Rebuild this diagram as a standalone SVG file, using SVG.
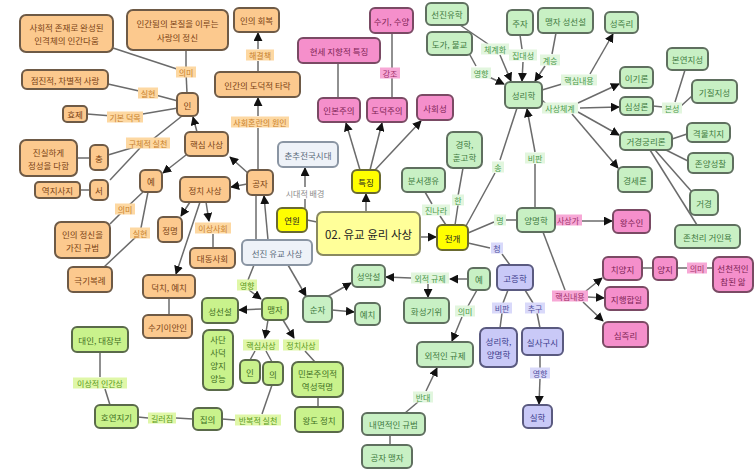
<svg xmlns="http://www.w3.org/2000/svg" width="754" height="471" viewBox="0 0 754 471">
<defs>
<marker id="a" viewBox="0 0 10 10" refX="9" refY="5" markerWidth="9" markerHeight="9" orient="auto" markerUnits="userSpaceOnUse"><path d="M0,0 L10,5 L0,10z" fill="#111"/></marker>
<style>
text{font-family:"Noto Sans CJK KR","Noto Sans",sans-serif;font-size:8.5px;text-anchor:middle;dominant-baseline:central}
.node rect{stroke-width:2}
.o rect{fill:#fcc98e;stroke:#6e5a46}.o text{fill:#7a4214}
.p rect{fill:#f58fcb;stroke:#7a4a64}.p text{fill:#7d1f55}
.g rect{fill:#c8f0c4;stroke:#5f6f5f}.g text{fill:#3f7a3f}
.l rect{fill:#c9f28c;stroke:#5a6a4a}.l text{fill:#3f6f1f}
.y rect{fill:#ffff00;stroke:#6a6a30}.y text{fill:#222}
.c rect{fill:#ffff99;stroke:#8a8a60}.c text{fill:#222;font-size:11.5px}
.v rect{fill:#c9c9f7;stroke:#5a5a80}.v text{fill:#3a3a8a}
.s rect{fill:#eef2f8;stroke:#8a95a3}.s text{fill:#5a6a7a}
#edges line,#edges path{stroke:#6b6b6b;stroke-width:1.5;fill:none}
#edges .ar{marker-end:url(#a)}
.lb text{font-size:8px}
.lo rect{fill:#fdd8a2}.lo text{fill:#c8802c}
.lp rect{fill:#f7a8d6}.lp text{fill:#a0306a}
.lg rect{fill:#e2f6de}.lg text{fill:#4a9a4a}
.ll rect{fill:#dff7a8}.ll text{fill:#5a9a20}
.lv rect{fill:#d9d9fa}.lv text{fill:#5050a0}
.lt text{fill:#8a8a8a}
</style>
</defs>
<rect width="754" height="471" fill="#fff"/>
<g id="edges">
<line x1="113" y1="48" x2="186" y2="72"/><line x1="186" y1="50" x2="186" y2="72"/><line x1="186" y1="72" x2="187" y2="93"/>
<path d="M108,84 L148,93 L178,101"/>
<path d="M87,114 L125,117 L178,108"/>
<path d="M108,155 L148,143 L182,116"/>
<line x1="110" y1="180" x2="140" y2="148"/>
<line x1="77" y1="158" x2="90" y2="158"/>
<line x1="80" y1="190" x2="90" y2="190"/>
<line class="ar" x1="197" y1="132" x2="193" y2="117"/>
<line class="ar" x1="186" y1="155" x2="163" y2="173"/>
<path d="M143,192 L125,209 L110,224"/>
<path d="M148,192 L140,233 L104,267"/>
<line class="ar" x1="190" y1="202" x2="181" y2="216"/>
<line class="ar" x1="200" y1="202" x2="176" y2="274"/>
<line class="ar" x1="206" y1="202" x2="209" y2="221"/>
<line x1="213" y1="234" x2="213" y2="248"/>
<line x1="169" y1="298" x2="169" y2="315"/>
<line class="ar" x1="249" y1="174" x2="230" y2="157"/>
<line class="ar" x1="247" y1="184" x2="231" y2="187"/>
<line x1="258" y1="170" x2="258" y2="128"/>
<line class="ar" x1="258" y1="116" x2="258" y2="98"/>
<line x1="258" y1="72" x2="258" y2="61"/>
<line class="ar" x1="258" y1="49" x2="258" y2="33"/>
<line class="ar" x1="268" y1="240" x2="264" y2="196"/>
<line x1="256" y1="195" x2="256" y2="240"/>
<line x1="254" y1="265" x2="248" y2="280"/>
<line class="ar" x1="249" y1="290" x2="261" y2="299"/>
<line class="ar" x1="288" y1="265" x2="306" y2="296"/>
<line x1="305" y1="208" x2="305" y2="199"/>
<line class="ar" x1="305" y1="187" x2="305" y2="168"/>
<line x1="307" y1="220" x2="317" y2="222"/>
<line class="ar" x1="366" y1="212" x2="366" y2="194"/>
<line class="ar" x1="360" y1="170" x2="346" y2="123"/>
<line class="ar" x1="370" y1="170" x2="382" y2="123"/>
<line class="ar" x1="375" y1="170" x2="421" y2="121"/>
<line x1="338" y1="98" x2="338" y2="63"/>
<line x1="392" y1="98" x2="392" y2="33"/>
<line class="ar" x1="420" y1="237" x2="436" y2="237"/>
<path d="M463,168 L458,196 M458,205 L455,225"/>
<path d="M425,192 L432,204 M440,216 L446,225"/>
<path d="M466,226 L495,173 M500,160 L517,108"/>
<path d="M468,233 L494,222 M506,220 L517,220"/>
<path d="M468,243 L490,248 M502,254 L510,265"/>
<line x1="535" y1="208" x2="535" y2="164"/>
<line class="ar" x1="535" y1="152" x2="527" y2="109"/>
<line class="ar" x1="582" y1="221" x2="612" y2="221"/>
<line x1="543" y1="232" x2="565" y2="290"/>
<line class="ar" x1="586" y1="291" x2="602" y2="278"/>
<line class="ar" x1="588" y1="297" x2="604" y2="298"/>
<line class="ar" x1="583" y1="302" x2="603" y2="321"/>
<line x1="642" y1="268" x2="653" y2="268"/>
<line x1="677" y1="268" x2="713" y2="268"/>
<path d="M460,25 L488,44"/>
<line class="ar" x1="500" y1="55" x2="511" y2="81"/>
<path d="M470,55 L476,66"/>
<line class="ar" x1="489" y1="77" x2="504" y2="84"/>
<line x1="520" y1="35" x2="522" y2="49"/>
<line class="ar" x1="523" y1="62" x2="522" y2="81"/>
<line x1="556" y1="33" x2="552" y2="54"/>
<line class="ar" x1="545" y1="66" x2="535" y2="81"/>
<line x1="542" y1="90" x2="562" y2="84"/>
<line class="ar" x1="590" y1="74" x2="613" y2="34"/>
<line class="ar" x1="578" y1="103" x2="619" y2="84"/>
<line class="ar" x1="580" y1="108" x2="619" y2="107"/>
<line class="ar" x1="578" y1="112" x2="619" y2="135"/>
<line class="ar" x1="572" y1="114" x2="618" y2="168"/>
<line x1="542" y1="100" x2="546" y2="104"/>
<line x1="653" y1="106" x2="663" y2="107"/>
<path d="M675,102 L685,70 M681,106 L692,96"/>
<line x1="672" y1="139" x2="687" y2="134"/>
<line x1="666" y1="150" x2="688" y2="161"/>
<line x1="655" y1="150" x2="692" y2="192"/>
<line x1="650" y1="150" x2="697" y2="225"/>
<path d="M508,290 L503,303 M502,313 L500,328"/>
<path d="M525,290 L533,303 M537,313 L540,328"/>
<line x1="540" y1="355" x2="540" y2="368"/>
<line class="ar" x1="540" y1="379" x2="539" y2="404"/>
<line class="ar" x1="468" y1="279" x2="450" y2="279"/>
<line class="ar" x1="411" y1="278" x2="386" y2="277"/>
<line class="ar" x1="428" y1="284" x2="428" y2="297"/>
<line x1="477" y1="290" x2="468" y2="306"/>
<line class="ar" x1="462" y1="317" x2="452" y2="341"/>
<line x1="405" y1="413" x2="418" y2="402"/>
<line class="ar" x1="426" y1="391" x2="437" y2="368"/>
<line x1="390" y1="435" x2="390" y2="445"/>
<line class="ar" x1="325" y1="298" x2="351" y2="283"/>
<line class="ar" x1="332" y1="310" x2="354" y2="312"/>
<line class="ar" x1="262" y1="309" x2="239" y2="310"/>
<line class="ar" x1="268" y1="320" x2="265" y2="338"/>
<line class="ar" x1="283" y1="320" x2="294" y2="338"/>
<path d="M255,351 L250,360 M266,351 L272,362 M305,351 L315,362"/>
<line x1="318" y1="397" x2="318" y2="407"/>
<line x1="272" y1="385" x2="262" y2="414"/>
<line x1="235" y1="420" x2="222" y2="419"/>
<line x1="193" y1="419" x2="176" y2="418"/>
<line x1="148" y1="418" x2="138" y2="417"/>
<line x1="110" y1="405" x2="105" y2="389"/>
<line x1="100" y1="377" x2="100" y2="352"/>
</g>
<g id="labels" class="lb">
<g class="lo">
<rect x="176" y="66.5" width="20" height="11"/><text x="186" y="72">의미</text>
<rect x="138" y="87.5" width="20" height="11"/><text x="148" y="93">실현</text>
<rect x="107" y="111.5" width="36" height="11"/><text x="125" y="117">기본 덕목</text>
<rect x="126" y="137.5" width="44" height="11"/><text x="148" y="143">구체적 실천</text>
<rect x="115" y="203.5" width="20" height="11"/><text x="125" y="209">의미</text>
<rect x="130" y="227.5" width="20" height="11"/><text x="140" y="233">실현</text>
<rect x="195" y="222.5" width="36" height="11"/><text x="213" y="228">이상사회</text>
<rect x="246" y="49.5" width="28" height="11"/><text x="260" y="55">해결책</text>
<rect x="231" y="116.5" width="58" height="11"/><text x="260" y="122">사회혼란의 원인</text>
</g>
<g class="lp">
<rect x="380" y="67.5" width="20" height="11"/><text x="390" y="73">강조</text>
<rect x="554" y="214.5" width="28" height="11"/><text x="568" y="220">사상가</text>
<rect x="552" y="290.5" width="36" height="11"/><text x="570" y="296">핵심내용</text>
<rect x="687" y="262.5" width="20" height="11"/><text x="697" y="268">의미</text>
</g>
<g class="lg">
<rect x="481" y="43.5" width="28" height="11"/><text x="495" y="49">체계화</text>
<rect x="471" y="67.5" width="20" height="11"/><text x="481" y="73">영향</text>
<rect x="509" y="49.5" width="28" height="11"/><text x="523" y="55">집대성</text>
<rect x="540" y="54.5" width="20" height="11"/><text x="550" y="60">계승</text>
<rect x="561" y="74.5" width="36" height="11"/><text x="579" y="80">핵심내용</text>
<rect x="542" y="102.5" width="36" height="11"/><text x="560" y="108">사상체계</text>
<rect x="662" y="102.5" width="20" height="11"/><text x="672" y="108">본성</text>
<rect x="452" y="194.5" width="12" height="11"/><text x="458" y="200">한</text>
<rect x="422" y="204.5" width="28" height="11"/><text x="436" y="210">진나라</text>
<rect x="492" y="161.5" width="12" height="11"/><text x="498" y="167">송</text>
<rect x="494" y="214.5" width="12" height="11"/><text x="500" y="220">명</text>
<rect x="525" y="152.5" width="20" height="11"/><text x="535" y="158">비판</text>
<rect x="411" y="272.5" width="38" height="11"/><text x="430" y="278">외적 규제</text>
<rect x="455" y="305.5" width="20" height="11"/><text x="465" y="311">의미</text>
<rect x="413" y="391.5" width="20" height="11"/><text x="423" y="397">반대</text>
</g>
<g class="ll">
<rect x="237" y="279.5" width="20" height="11"/><text x="247" y="285">영향</text>
<rect x="243" y="339.5" width="36" height="11"/><text x="261" y="345">핵심사상</text>
<rect x="283" y="339.5" width="36" height="11"/><text x="301" y="345">정치사상</text>
<rect x="235" y="414.5" width="46" height="11"/><text x="258" y="420">반복적 실천</text>
<rect x="148" y="412.5" width="28" height="11"/><text x="162" y="418">길러짐</text>
<rect x="73" y="377.5" width="54" height="11"/><text x="100" y="383">이상적 인간상</text>
</g>
<g class="lv">
<rect x="491" y="242.5" width="12" height="11"/><text x="497" y="248">청</text>
<rect x="492" y="302.5" width="20" height="11"/><text x="502" y="308">비판</text>
<rect x="525" y="302.5" width="20" height="11"/><text x="535" y="308">추구</text>
<rect x="530" y="367.5" width="20" height="11"/><text x="540" y="373">영향</text>
</g>
<g class="lt"><text x="305" y="193">시대적 배경</text></g>
</g>
<g id="n_sahoe" class="node o"><rect x="20" y="15" width="93" height="37" rx="6"/><text x="66.5" y="27">사회적 존재로 완성된</text><text x="66.5" y="40">인격체의 인간다움</text></g>
<g id="n_ingan" class="node o"><rect x="127" y="10" width="101" height="40" rx="6"/><text x="177.5" y="23">인간됨의 본질을 이루는</text><text x="177.5" y="37">사랑의 정신</text></g>
<g id="n_inhoe" class="node o"><rect x="234" y="8" width="45" height="24" rx="5"/><text x="256.5" y="20">인의 회복</text></g>
<g id="n_tarak" class="node o"><rect x="215" y="72" width="85" height="25" rx="5"/><text x="257.5" y="84.5">인간의 도덕적 타락</text></g>
<g id="n_in" class="node o"><rect x="177" y="93" width="21" height="23" rx="5"/><text x="187.5" y="104.5">인</text></g>
<g id="n_jeomjin" class="node o"><rect x="22" y="70" width="86" height="19" rx="5"/><text x="65" y="79.5">점진적, 차별적 사랑</text></g>
<g id="n_hyoje" class="node o"><rect x="63" y="106" width="24" height="16" rx="4"/><text x="75" y="114">효제</text></g>
<g id="n_chung" class="node o"><rect x="90" y="145" width="18" height="25" rx="5"/><text x="99" y="157.5">충</text></g>
<g id="n_jinsim" class="node o"><rect x="20" y="140" width="57" height="36" rx="6"/><text x="48.5" y="152">진실하게</text><text x="48.5" y="165">정성을 다함</text></g>
<g id="n_seo" class="node o"><rect x="90" y="180" width="18" height="20" rx="5"/><text x="99" y="190">서</text></g>
<g id="n_yeokji" class="node o"><rect x="35" y="182" width="45" height="16" rx="4"/><text x="57.5" y="190">역지사지</text></g>
<g id="n_ye" class="node o"><rect x="140" y="170" width="22" height="22" rx="5"/><text x="151" y="181">예</text></g>
<g id="n_inui" class="node o"><rect x="55" y="222" width="55" height="36" rx="6"/><text x="82.5" y="234">인의 정신을</text><text x="82.5" y="247">가진 규범</text></g>
<g id="n_geukgi" class="node o"><rect x="68" y="267" width="44" height="25" rx="5"/><text x="90" y="279.5">극기복례</text></g>
<g id="n_haeksim" class="node o"><rect x="185" y="132" width="43" height="24" rx="5"/><text x="206.5" y="144">핵심 사상</text></g>
<g id="n_jeongchi" class="node o"><rect x="180" y="177" width="50" height="25" rx="5"/><text x="205" y="189.5">정치 사상</text></g>
<g id="n_jeongmyeong" class="node o"><rect x="158" y="217" width="24" height="25" rx="5"/><text x="170" y="229.5">정명</text></g>
<g id="n_deokchi" class="node o"><rect x="143" y="275" width="52" height="23" rx="5"/><text x="169" y="286.5">덕치, 예치</text></g>
<g id="n_daedong" class="node o"><rect x="190" y="248" width="45" height="20" rx="5"/><text x="212.5" y="258">대동사회</text></g>
<g id="n_sugi" class="node o"><rect x="143" y="315" width="49" height="23" rx="5"/><text x="167.5" y="326.5">수기이안인</text></g>
<g id="n_gongja" class="node o"><rect x="247" y="170" width="26" height="25" rx="5"/><text x="260" y="182.5">공자</text></g>
<g id="n_chunchu" class="node s"><rect x="278" y="142" width="60" height="25" rx="5"/><text x="308" y="154.5">춘추전국시대</text></g>
<g id="n_seonjin" class="node s"><rect x="242" y="240" width="70" height="25" rx="5"/><text x="277" y="252.5">선진 유교 사상</text></g>
<g id="n_yeonwon" class="node y"><rect x="277" y="208" width="30" height="24" rx="5"/><text x="292" y="220">연원</text></g>
<g id="n_center" class="node c"><rect x="317" y="212" width="103" height="43" rx="6"/><text x="368.5" y="233.5">02. 유교 윤리 사상</text></g>
<g id="n_teukjing" class="node y"><rect x="352" y="170" width="28" height="23" rx="5"/><text x="366" y="181.5">특징</text></g>
<g id="n_jeongae" class="node y"><rect x="437" y="225" width="31" height="25" rx="5"/><text x="452.5" y="237.5">전개</text></g>
<g id="n_inbon" class="node p"><rect x="318" y="98" width="42" height="24" rx="5"/><text x="339" y="110">인본주의</text></g>
<g id="n_dodeok" class="node p"><rect x="367" y="98" width="40" height="24" rx="5"/><text x="387" y="110">도덕주의</text></g>
<g id="n_sahoeseong" class="node p"><rect x="417" y="95" width="36" height="25" rx="5"/><text x="435" y="107.5">사회성</text></g>
<g id="n_hyeonse" class="node p"><rect x="298" y="38" width="82" height="25" rx="5"/><text x="339" y="50.5">현세 지향적 특징</text></g>
<g id="n_sugisuyang" class="node p"><rect x="370" y="8" width="43" height="25" rx="5"/><text x="391.5" y="20.5">수기, 수양</text></g>
<g id="n_wangsuin" class="node p"><rect x="613" y="210" width="37" height="23" rx="5"/><text x="631.5" y="221.5">왕수인</text></g>
<g id="n_chiyangji" class="node p"><rect x="603" y="257" width="39" height="23" rx="5"/><text x="622.5" y="268.5">치양지</text></g>
<g id="n_yangji" class="node p"><rect x="653" y="257" width="24" height="23" rx="5"/><text x="665" y="268.5">양지</text></g>
<g id="n_seoncheon" class="node p"><rect x="713" y="257" width="40" height="35" rx="6"/><text x="733" y="268">선천적인</text><text x="733" y="281">참된 앎</text></g>
<g id="n_jihaeng" class="node p"><rect x="605" y="287" width="43" height="23" rx="5"/><text x="626.5" y="298.5">지행합일</text></g>
<g id="n_simjeukri" class="node p"><rect x="603" y="322" width="45" height="25" rx="5"/><text x="625.5" y="334.5">심즉리</text></g>
<g id="n_seonjinyuhak" class="node g"><rect x="426" y="3" width="42" height="22" rx="5"/><text x="447" y="14">선진유학</text></g>
<g id="n_doga" class="node g"><rect x="427" y="32" width="45" height="23" rx="5"/><text x="449.5" y="43.5">도가, 불교</text></g>
<g id="n_juja" class="node g"><rect x="507" y="10" width="26" height="25" rx="5"/><text x="520" y="22.5">주자</text></g>
<g id="n_maengja_s" class="node g"><rect x="538" y="8" width="55" height="25" rx="5"/><text x="565.5" y="20.5">맹자 성선설</text></g>
<g id="n_seongrihak" class="node g"><rect x="505" y="82" width="37" height="26" rx="5"/><text x="523.5" y="95">성리학</text></g>
<g id="n_seongjeukri" class="node g"><rect x="605" y="12" width="33" height="21" rx="5"/><text x="621.5" y="22.5">성즉리</text></g>
<g id="n_igi" class="node g"><rect x="620" y="67" width="33" height="21" rx="5"/><text x="636.5" y="77.5">이기론</text></g>
<g id="n_simseong" class="node g"><rect x="620" y="97" width="33" height="18" rx="5"/><text x="636.5" y="106">심성론</text></g>
<g id="n_geogyeong" class="node g"><rect x="620" y="132" width="52" height="18" rx="5"/><text x="646" y="141">거경궁리론</text></g>
<g id="n_gyeongse" class="node g"><rect x="618" y="167" width="34" height="25" rx="5"/><text x="635" y="179.5">경세론</text></g>
<g id="n_bonyeon" class="node g"><rect x="667" y="48" width="41" height="22" rx="5"/><text x="687.5" y="59">본연지성</text></g>
<g id="n_gijil" class="node g"><rect x="692" y="80" width="45" height="23" rx="5"/><text x="714.5" y="91.5">기질지성</text></g>
<g id="n_gyeokmul" class="node g"><rect x="687" y="123" width="43" height="19" rx="5"/><text x="708.5" y="132.5">격물치지</text></g>
<g id="n_jonyang" class="node g"><rect x="688" y="153" width="45" height="20" rx="5"/><text x="710.5" y="163">존양성찰</text></g>
<g id="n_geo" class="node g"><rect x="690" y="190" width="28" height="25" rx="5"/><text x="704" y="202.5">거경</text></g>
<g id="n_joncheon" class="node g"><rect x="675" y="225" width="65" height="23" rx="5"/><text x="707.5" y="236.5">존천리 거인욕</text></g>
<g id="n_gyeonghak" class="node g"><rect x="447" y="132" width="35" height="36" rx="6"/><text x="464.5" y="144">경학,</text><text x="464.5" y="157">훈고학</text></g>
<g id="n_bunseo" class="node g"><rect x="402" y="168" width="43" height="24" rx="5"/><text x="423.5" y="180">분서갱유</text></g>
<g id="n_yangmyeong" class="node g"><rect x="517" y="208" width="38" height="24" rx="5"/><text x="536" y="220">양명학</text></g>
<g id="n_ye_g" class="node g"><rect x="468" y="268" width="22" height="22" rx="5"/><text x="479" y="279">예</text></g>
<g id="n_seongak" class="node g"><rect x="352" y="265" width="33" height="22" rx="5"/><text x="368.5" y="276">성악설</text></g>
<g id="n_hwaseong" class="node g"><rect x="404" y="298" width="45" height="25" rx="5"/><text x="426.5" y="310.5">화성기위</text></g>
<g id="n_sunja" class="node g"><rect x="303" y="296" width="29" height="26" rx="5"/><text x="317.5" y="309">순자</text></g>
<g id="n_yechi" class="node g"><rect x="355" y="303" width="25" height="22" rx="5"/><text x="367.5" y="314">예치</text></g>
<g id="n_oejeok" class="node g"><rect x="417" y="342" width="56" height="25" rx="5"/><text x="445" y="354.5">외적인 규제</text></g>
<g id="n_naemyeon" class="node g"><rect x="362" y="413" width="63" height="22" rx="5"/><text x="393.5" y="424">내면적인 규범</text></g>
<g id="n_gongmaeng" class="node g"><rect x="362" y="445" width="50" height="23" rx="5"/><text x="387" y="456.5">공자 맹자</text></g>
<g id="n_maengja" class="node l"><rect x="262" y="298" width="26" height="22" rx="5"/><text x="275" y="309">맹자</text></g>
<g id="n_seongseon" class="node l"><rect x="202" y="298" width="36" height="25" rx="5"/><text x="220" y="310.5">성선설</text></g>
<g id="n_sadan" class="node l"><rect x="203" y="330" width="30" height="60" rx="6"/><text x="218" y="339">사단</text><text x="218" y="352">사덕</text><text x="218" y="365">양지</text><text x="218" y="378">양능</text></g>
<g id="n_in_l" class="node l"><rect x="240" y="360" width="20" height="23" rx="5"/><text x="250" y="371.5">인</text></g>
<g id="n_ui" class="node l"><rect x="263" y="362" width="20" height="23" rx="5"/><text x="273" y="373.5">의</text></g>
<g id="n_minbon" class="node l"><rect x="292" y="362" width="51" height="35" rx="6"/><text x="317.5" y="373">민본주의적</text><text x="317.5" y="386">역성혁명</text></g>
<g id="n_wangdo" class="node l"><rect x="295" y="407" width="48" height="25" rx="5"/><text x="319" y="419.5">왕도 정치</text></g>
<g id="n_jibui" class="node l"><rect x="193" y="408" width="29" height="22" rx="5"/><text x="207.5" y="419">집의</text></g>
<g id="n_hoyeon" class="node l"><rect x="95" y="405" width="43" height="23" rx="5"/><text x="116.5" y="416.5">호연지기</text></g>
<g id="n_daein" class="node l"><rect x="72" y="327" width="56" height="25" rx="5"/><text x="100" y="339.5">대인, 대장부</text></g>
<g id="n_gojeung" class="node v"><rect x="497" y="265" width="36" height="25" rx="5"/><text x="515" y="277.5">고증학</text></g>
<g id="n_seongyang" class="node v"><rect x="480" y="328" width="37" height="39" rx="6"/><text x="498.5" y="341">성리학,</text><text x="498.5" y="354">양명학</text></g>
<g id="n_silsa" class="node v"><rect x="522" y="328" width="41" height="27" rx="5"/><text x="542.5" y="341.5">실사구시</text></g>
<g id="n_silhak" class="node v"><rect x="523" y="405" width="29" height="23" rx="5"/><text x="537.5" y="416.5">실학</text></g>
</svg>
